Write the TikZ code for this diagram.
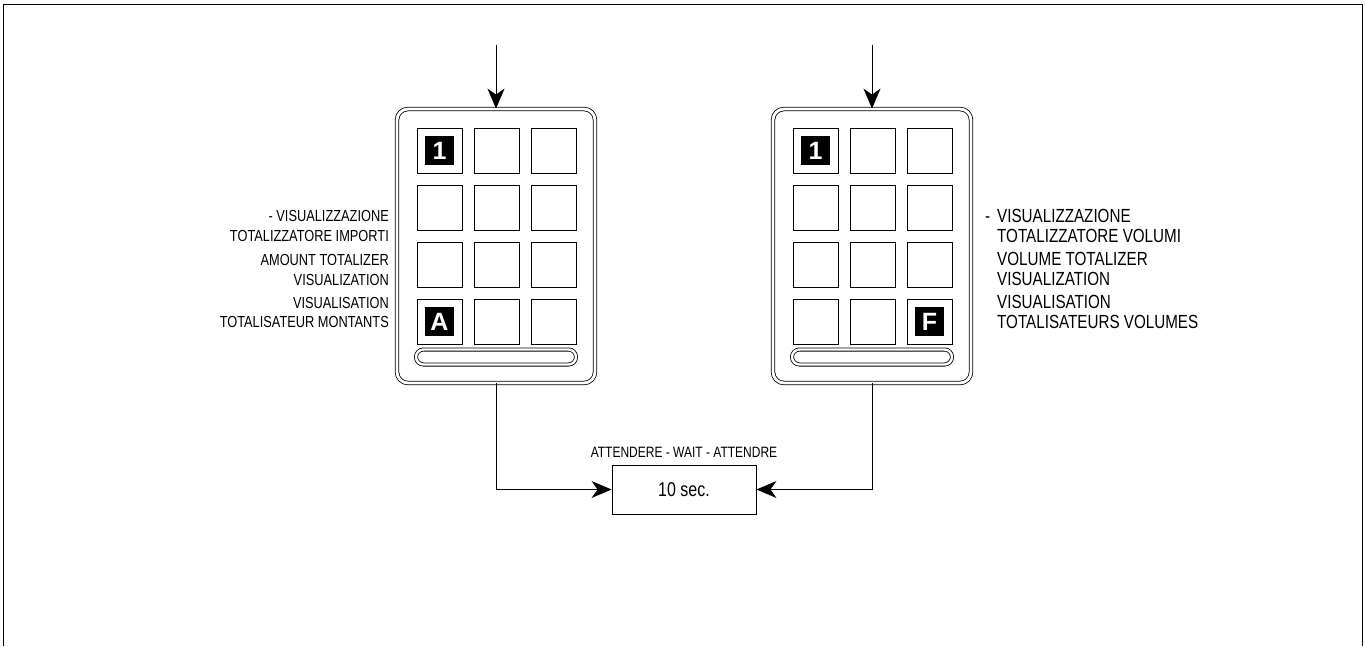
\documentclass[tikz,border=0pt]{standalone}
\usepackage{fontspec}
\setmainfont[FakeStretch=0.8]{Liberation Sans}
\newfontfamily\keyfont{Liberation Sans}
\usetikzlibrary{arrows.meta}
\begin{document}
\begin{tikzpicture}[x=1pt,y=-1pt,
  frame/.style={line width=1.4pt},
  pad/.style={draw, double, double distance=2.8pt, line width=0.8pt, rounded corners=11pt, minimum width=198pt, minimum height=274pt, inner sep=0pt},
  key/.style={draw, line width=0.9pt, minimum size=45pt, inner sep=0pt},
  keymark/.style={fill=black, text=white, minimum size=29pt, inner sep=0pt, font=\keyfont\fontsize{25}{25}\selectfont\bfseries},
  slot/.style={draw, double, double distance=2.4pt, line width=0.8pt, rounded corners=7.5pt, minimum width=160pt, minimum height=15pt, inner sep=0pt},
  lbl/.style={font=\fontsize{16}{16}\selectfont, inner sep=0pt},
  rlbl/.style={font=\fontsize{19}{19}\selectfont, inner sep=0pt, anchor=base west},
  conn/.style={line width=1pt, -{Stealth[length=20pt,width=17pt,inset=6pt]}},
  box/.style={draw, line width=0.9pt, minimum width=144pt, minimum height=49pt, inner sep=0pt, font=\fontsize{20}{20}\selectfont}
]
\useasboundingbox (0,0) rectangle (1365,646);
\draw[frame] (3.5,646) -- (3.5,4.5) -- (1362.5,4.5) -- (1362.5,646);

% keypads
\node[pad] (KL) at (496,246) {};
\node[pad] (KR) at (872,246) {};
\foreach \c in {0,1,2} {
  \foreach \r in {0,1,2,3} {
    \node[key] (L\r\c) at (439.5+57*\c, 150.5+57*\r) {};
    \node[key] (R\r\c) at (815.5+57*\c, 150.5+57*\r) {};
  }
}
\node[keymark] (L1m) at (L00) {1};
\node[keymark] (LAm) at (L30) {A};
\node[keymark] (R1m) at (R00) {1};
\node[keymark] (RFm) at (R32) {F};
\node[slot] (SL) at (496,357) {};
\node[slot] (SR) at (872,357) {};

% waiting box
\node[box] (T) at (684,489.5) {10 sec.};
\node[lbl, font=\fontsize{15}{15}\selectfont, anchor=base] (wait) at (684,457.5) {ATTENDERE - WAIT - ATTENDRE};

% connectors
\coordinate (LIn) at (496,45);
\coordinate (RIn) at (872,45);
\draw[conn] (LIn) -- (KL.north);
\draw[conn] (RIn) -- (KR.north);
\draw[conn] (KL.south) |- (T.west);
\draw[conn] (KR.south) |- (T.east);

% left text
\node[lbl, anchor=base east] (l1) at (389,221.5) {- VISUALIZZAZIONE};
\node[lbl, anchor=base east] (l2) at (389,241.5) {TOTALIZZATORE IMPORTI};
\node[lbl, anchor=base east] (l3) at (389,265) {AMOUNT TOTALIZER};
\node[lbl, anchor=base east] (l4) at (389,285) {VISUALIZATION};
\node[lbl, anchor=base east] (l5) at (389,308) {VISUALISATION};
\node[lbl, anchor=base east] (l6) at (389,327.5) {TOTALISATEUR MONTANTS};

% right text
\node[rlbl] (rd) at (985,222) {-};
\node[rlbl] (r1) at (997,222) {VISUALIZZAZIONE};
\node[rlbl] (r2) at (997,242) {TOTALIZZATORE VOLUMI};
\node[rlbl] (r3) at (997,265.5) {VOLUME TOTALIZER};
\node[rlbl] (r4) at (997,285.5) {VISUALIZATION};
\node[rlbl] (r5) at (997,308.5) {VISUALISATION};
\node[rlbl] (r6) at (997,328) {TOTALISATEURS VOLUMES};
\end{tikzpicture}
\end{document}
